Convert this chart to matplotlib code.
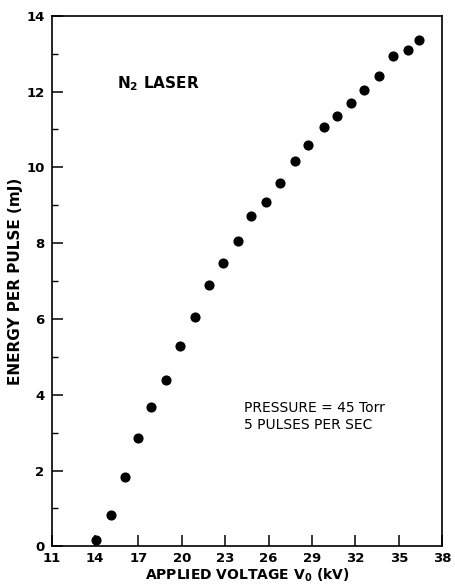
import matplotlib
matplotlib.use("Agg")
import matplotlib.pyplot as plt
from matplotlib.ticker import MultipleLocator

voltage_kv = [14.05, 15.1, 16.05, 16.95, 17.9, 18.9, 19.9, 20.9, 21.9, 22.85,
              23.9, 24.8, 25.8, 26.8, 27.8, 28.75, 29.8, 30.7, 31.7, 32.6,
              33.6, 34.6, 35.6, 36.4]
energy_mj = [0.16, 0.82, 1.82, 2.85, 3.67, 4.38, 5.28, 6.04, 6.91, 7.47,
             8.07, 8.73, 9.08, 9.6, 10.18, 10.58, 11.06, 11.35, 11.7, 12.03,
             12.4, 12.93, 13.11, 13.35]
x_ticks = [11, 14, 17, 20, 23, 26, 29, 32, 35, 38]
y_ticks = [0, 2, 4, 6, 8, 10, 12, 14]

plt.rcParams['font.family'] = ['DejaVu Sans']
fig = plt.figure(figsize=(4.56, 5.85), dpi=100)
ax = fig.add_axes([0.113, 0.066, 0.857, 0.907])
ax.plot(voltage_kv, energy_mj, 'o', color='black', ms=6.3, mec='black')
ax.set_xlim(11, 38)
ax.set_ylim(0, 14)
ax.set_xticks(x_ticks)
ax.set_yticks(y_ticks)
ax.yaxis.set_minor_locator(MultipleLocator(1))
ax.tick_params(axis='both', which='major', direction='in', length=8, width=1.1,
               labelsize=9.5)
ax.tick_params(axis='x', which='major', pad=4)
ax.tick_params(axis='y', which='major', pad=5)
ax.tick_params(axis='y', which='minor', direction='in', length=4, width=1.0)
ax.tick_params(axis='x', which='minor', bottom=False)
for lab in ax.get_xticklabels() + ax.get_yticklabels():
    lab.set_fontweight('bold')
for s in ax.spines.values():
    s.set_linewidth(1.2)
ax.set_xlabel('APPLIED VOLTAGE V$_\\mathbf{0}$ (kV)', fontsize=10, fontweight='bold', labelpad=1)
ax.set_ylabel('ENERGY PER PULSE (mJ)', fontsize=11, fontweight='bold', labelpad=2)
ax.text(15.5, 12.2, 'N$_\\mathbf{2}$ LASER', fontsize=11, fontweight='bold', va='center')
ax.text(24.3, 3.42, 'PRESSURE = 45 Torr\n5 PULSES PER SEC', fontsize=10,
        va='center', linespacing=1.25)
fig.savefig('out.png', dpi=100)
